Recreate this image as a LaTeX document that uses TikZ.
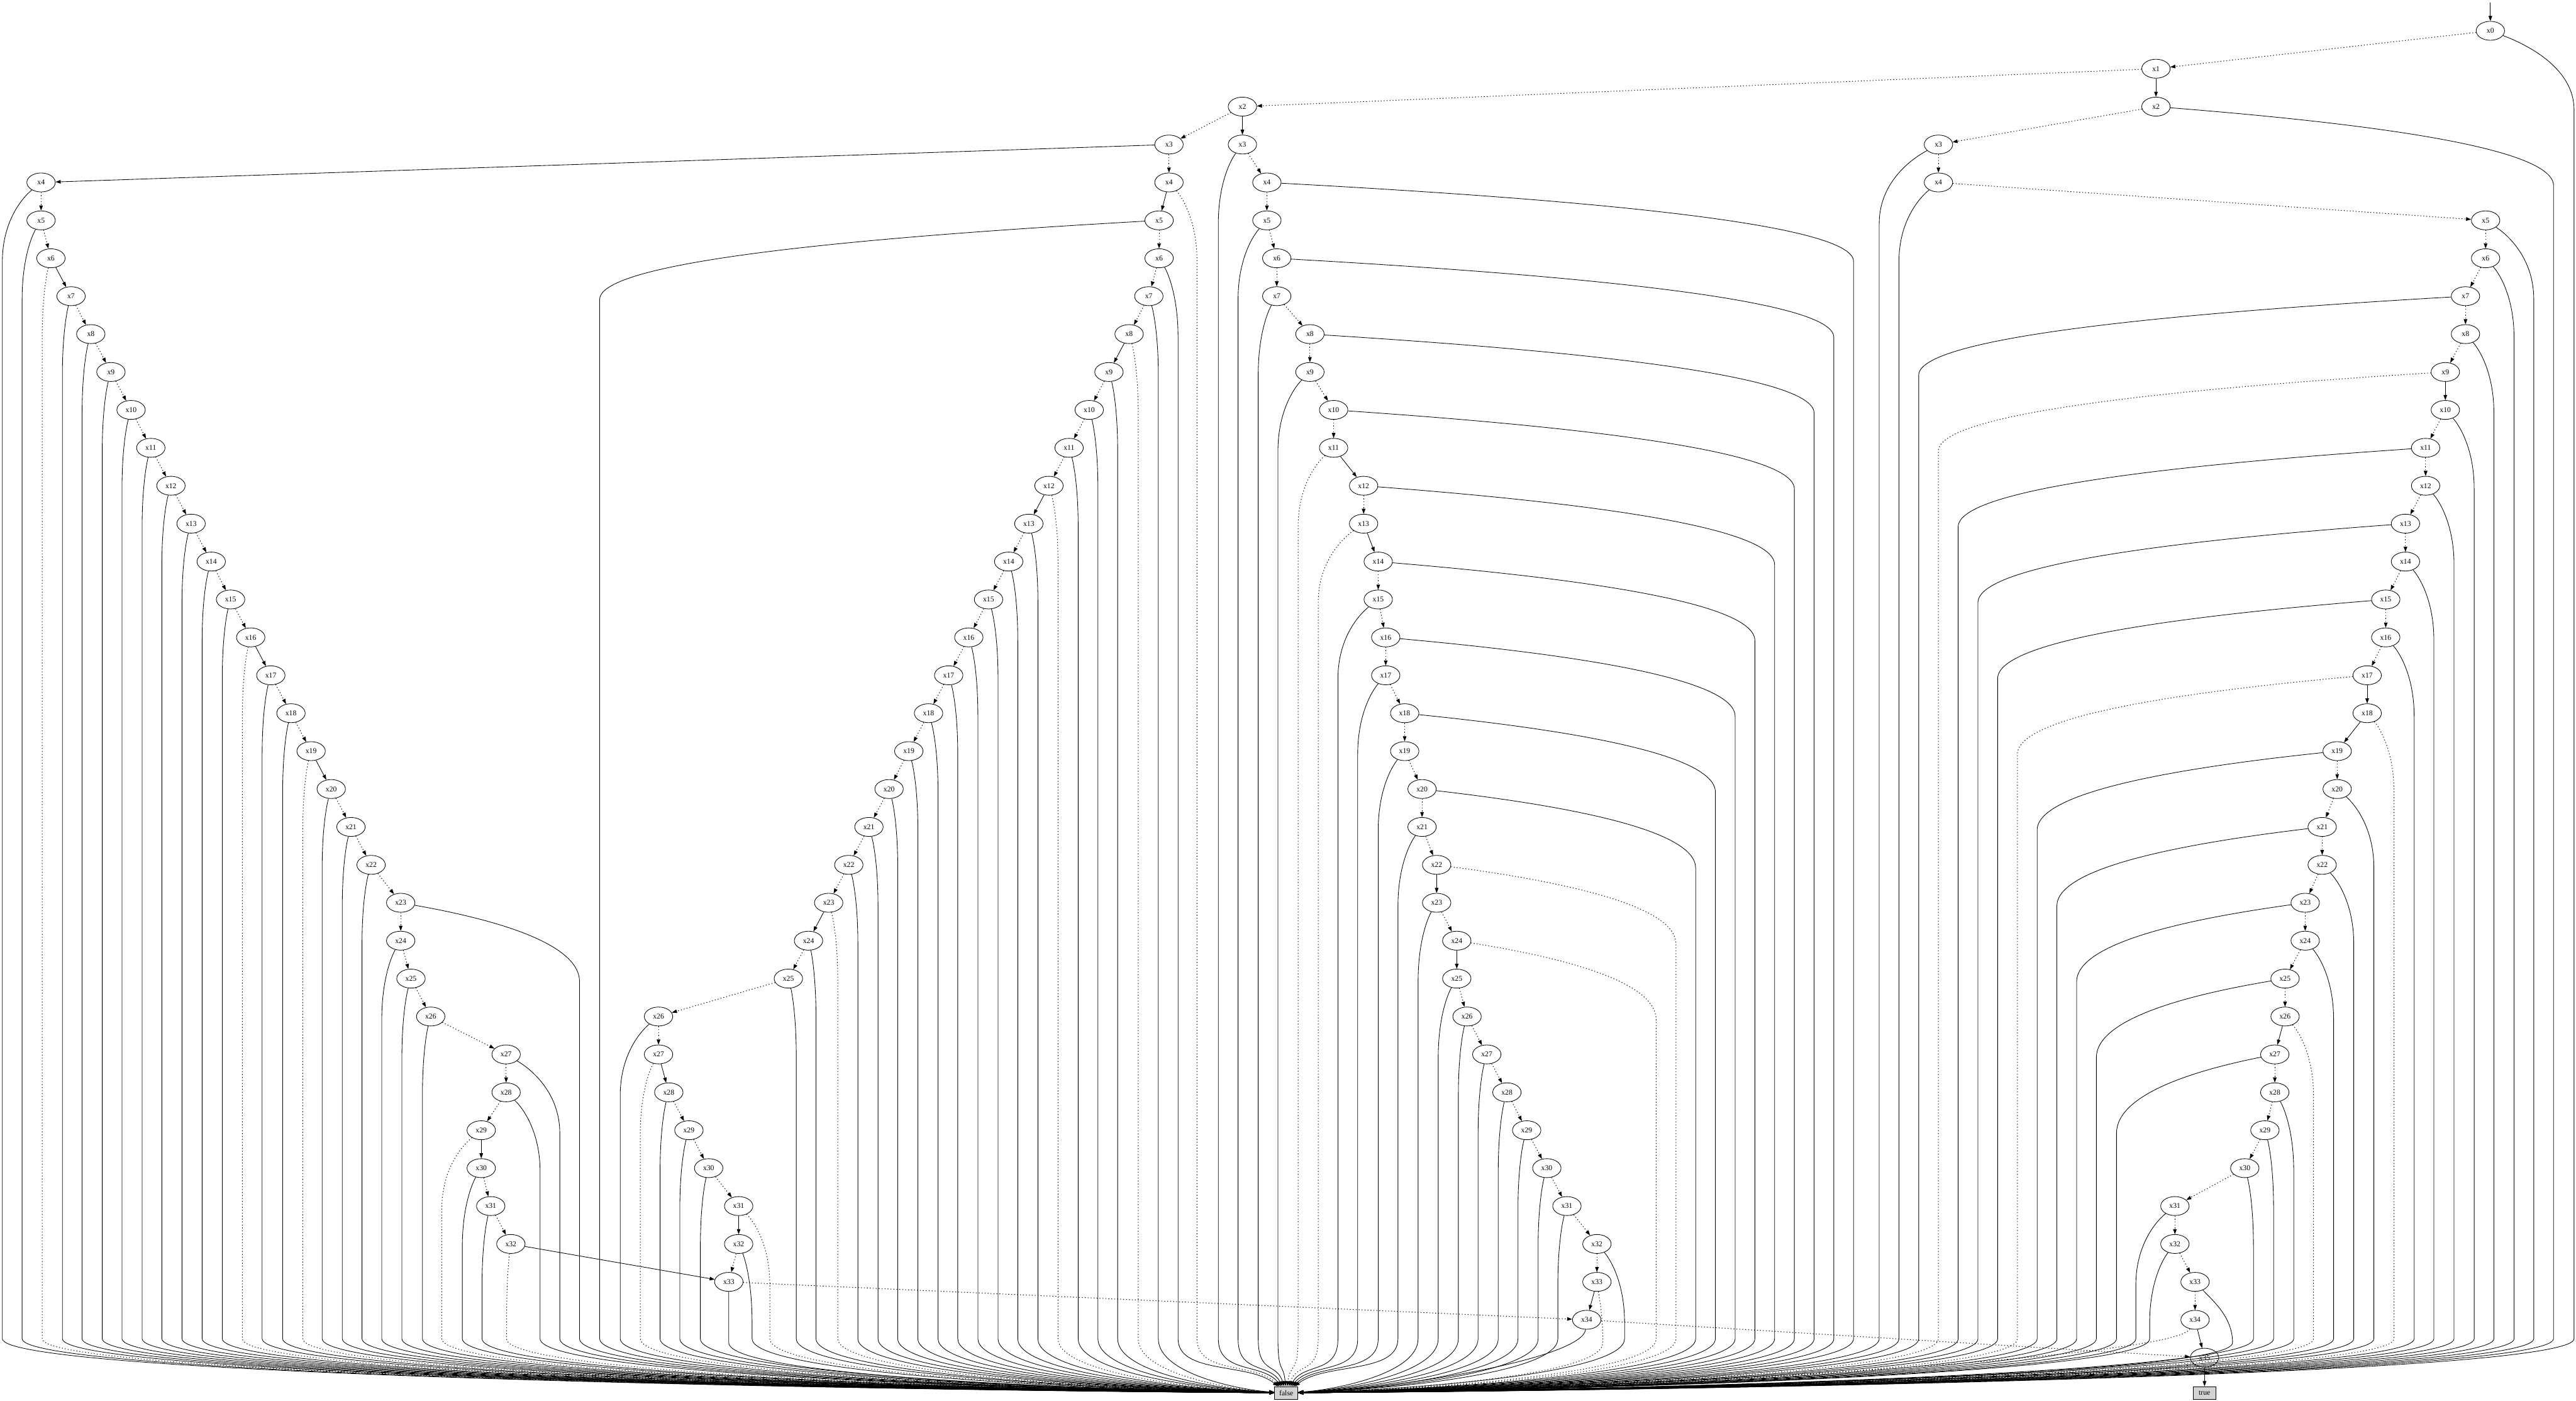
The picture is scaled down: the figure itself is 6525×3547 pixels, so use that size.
\documentclass[tikz,border=0pt]{standalone}
\usepackage{fontspec}
\setmainfont{Liberation Serif}
\usetikzlibrary{shapes.geometric,arrows.meta}
\definecolor{gvgray}{HTML}{D3D3D3}
\tikzset{
 bdd/.style={ellipse,draw,line width=1pt,minimum width=54pt,minimum height=36pt,inner sep=0pt,font=\fontsize{14}{16}\selectfont},
 term/.style={rectangle,draw,line width=1pt,fill=gvgray,minimum width=44pt,minimum height=24pt,inner sep=0pt,font=\fontsize{14}{16}\selectfont},
 gvhi/.style={line width=1pt,-{Triangle[length=9.75pt,width=6.75pt]}},
 gvlo/.style={gvhi,line width=1.2pt,dash pattern=on 1.6pt off 4pt},
}
% false edge: #1 node, #2 x, #3 y, #4 lane x, #5 style
\newcommand\gvfe[5]{%
  \pgfmathsetmacro\gvcdx{3258+0.35*(#4-3258)}%
  \pgfmathsetmacro\gvcdy{abs(#4-3258)<300 ? 3450 : 3520}%
  \pgfmathtruncatemacro\gvlow{#3>3300 ? 2 : (#3>3200 ? 1 : 0)}%
  \ifcase\gvlow
    \pgfmathsetmacro\gvcax{#2+0.5*(#4-#2)}%
    \pgfmathsetmacro\gvcay{#3+40}%
    \pgfmathsetmacro\gvcby{#3+100}%
    \pgfmathsetmacro\gvey{#3+200}%
    \draw[#5] (#1) .. controls (\gvcax,\gvcay) and (#4,\gvcby) .. (#4,\gvey) -- (#4,3390) .. controls (#4,3480) and (\gvcdx,\gvcdy) .. (false);
  \or
    \pgfmathsetmacro\gvcax{#2+0.5*(#4-#2)}%
    \pgfmathsetmacro\gvcay{#3+50}%
    \pgfmathsetmacro\gvcby{#3+90}%
    \draw[#5] (#1) .. controls (\gvcax,\gvcay) and (#4,\gvcby) .. (#4,3400) .. controls (#4,3485) and (\gvcdx,\gvcdy) .. (false);
  \else
    \pgfmathsetmacro\gvcby{min(#3+100,3485)}%
    \draw[#5] (#1) .. controls (#4,\gvcby) and (\gvcdx,\gvcdy) .. (false);
  \fi
}
% node with its false edge: #1 name, #2 x, #3 level, #4 lane, #5 style
\newcommand\bn[5]{%
  \pgfmathsetmacro\gvyn{78+96*#3}%
  \node[bdd] (#1) at (#2,\gvyn) {x#3};
  \gvfe{#1}{#2}{\gvyn}{#4}{#5}%
}
\newcommand\ed[3]{\draw[#3] (#1) -- (#2);}
\begin{document}
\begin{tikzpicture}[x=0.75pt,y=-0.75pt]
\useasboundingbox (0,0) rectangle (6525,3547);
\fill[white] (0,0) rectangle (6525,3547);
\node[term] (false) at (3258,3527) {false};
\node[term] (true) at (5584,3527) {true};
\coordinate (top) at (6308,7);
% top
\bn{n0}{6308}{0}{6520}{gvhi}
\node[bdd] (n1) at (5461,174) {x1};
\node[bdd] (l2) at (3147,270) {x2};
\bn{r2}{5461}{2}{6468}{gvhi}
\node[bdd] (b3) at (2961,366) {x3};
\bn{c3}{3147}{3}{3086}{gvhi}
\bn{d3}{4910}{3}{4760}{gvhi}
% chain A
\bn{a4}{104}{4}{6}{gvhi}
\bn{a5}{104}{5}{56}{gvhi}
\bn{a6}{129}{6}{107}{gvlo}
\bn{a7}{180}{7}{158}{gvhi}
\bn{a8}{230}{8}{208}{gvhi}
\bn{a9}{281}{9}{259}{gvhi}
\bn{a10}{332}{10}{309}{gvhi}
\bn{a11}{382}{11}{360}{gvhi}
\bn{a12}{433}{12}{410}{gvhi}
\bn{a13}{484}{13}{461}{gvhi}
\bn{a14}{535}{14}{512}{gvhi}
\bn{a15}{584}{15}{563}{gvhi}
\bn{a16}{635}{16}{614}{gvlo}
\bn{a17}{686}{17}{664}{gvhi}
\bn{a18}{737}{18}{716}{gvhi}
\bn{a19}{788}{19}{767}{gvlo}
\bn{a20}{839}{20}{816}{gvhi}
\bn{a21}{889}{21}{867}{gvhi}
\bn{a22}{940}{22}{917}{gvhi}
\bn{a23}{1015}{23}{1468}{gvhi}
\bn{a24}{1015}{24}{967}{gvhi}
\bn{a25}{1041}{25}{1018}{gvhi}
\bn{a26}{1091}{26}{1070}{gvhi}
\bn{a27}{1282}{27}{1418}{gvhi}
\bn{a28}{1282}{28}{1368}{gvhi}
\bn{a29}{1219}{29}{1119}{gvlo}
\bn{a30}{1219}{30}{1171}{gvhi}
\bn{a31}{1243}{31}{1221}{gvhi}
\bn{a32}{1294}{32}{1283}{gvlo}
% chain B
\bn{b4}{2961}{4}{3032}{gvlo}
\bn{b5}{2936}{5}{1519}{gvhi}
\bn{b6}{2936}{6}{2984}{gvhi}
\bn{b7}{2910}{7}{2934}{gvhi}
\bn{b8}{2860}{8}{2883}{gvlo}
\bn{b9}{2809}{9}{2831}{gvhi}
\bn{b10}{2759}{10}{2781}{gvhi}
\bn{b11}{2708}{11}{2731}{gvhi}
\bn{b12}{2657}{12}{2680}{gvlo}
\bn{b13}{2606}{13}{2629}{gvhi}
\bn{b14}{2555}{14}{2578}{gvhi}
\bn{b15}{2504}{15}{2528}{gvhi}
\bn{b16}{2454}{16}{2477}{gvhi}
\bn{b17}{2403}{17}{2426}{gvhi}
\bn{b18}{2352}{18}{2376}{gvhi}
\bn{b19}{2302}{19}{2325}{gvhi}
\bn{b20}{2252}{20}{2274}{gvhi}
\bn{b21}{2201}{21}{2224}{gvhi}
\bn{b22}{2150}{22}{2173}{gvhi}
\bn{b23}{2099}{23}{2122}{gvlo}
\bn{b24}{2048}{24}{2067}{gvhi}
\bn{b25}{1997}{25}{2017}{gvhi}
\bn{b26}{1668}{26}{1571}{gvhi}
\bn{b27}{1668}{27}{1622}{gvlo}
\bn{b28}{1694}{28}{1672}{gvhi}
\bn{b29}{1745}{29}{1722}{gvhi}
\bn{b30}{1795}{30}{1774}{gvhi}
\bn{b31}{1871}{31}{1950}{gvlo}
\bn{b32}{1871}{32}{1905}{gvhi}
\bn{m33}{1846}{33}{1846}{gvhi}
% chain C
\bn{c4}{3209}{4}{4695}{gvhi}
\bn{c5}{3209}{5}{3136}{gvhi}
\bn{c6}{3234}{6}{4645}{gvhi}
\bn{c7}{3234}{7}{3187}{gvhi}
\bn{c8}{3318}{8}{4595}{gvhi}
\bn{c9}{3318}{9}{3237}{gvhi}
\bn{c10}{3378}{10}{4545}{gvhi}
\bn{c11}{3378}{11}{3288}{gvlo}
\bn{c12}{3454}{12}{4495}{gvhi}
\bn{c13}{3454}{13}{3339}{gvlo}
\bn{c14}{3491}{14}{4445}{gvhi}
\bn{c15}{3491}{15}{3389}{gvhi}
\bn{c16}{3510}{16}{4395}{gvhi}
\bn{c17}{3510}{17}{3439}{gvhi}
\bn{c18}{3558}{18}{4345}{gvhi}
\bn{c19}{3558}{19}{3491}{gvhi}
\bn{c20}{3602}{20}{4295}{gvhi}
\bn{c21}{3602}{21}{3541}{gvhi}
\bn{c22}{3639}{22}{4245}{gvlo}
\bn{c23}{3639}{23}{3592}{gvhi}
\bn{c24}{3690}{24}{4195}{gvlo}
\bn{c25}{3690}{25}{3643}{gvhi}
\bn{c26}{3716}{26}{3694}{gvhi}
\bn{c27}{3766}{27}{3744}{gvhi}
\bn{c28}{3817}{28}{3795}{gvhi}
\bn{c29}{3867}{29}{3845}{gvhi}
\bn{c30}{3918}{30}{3896}{gvhi}
\bn{c31}{3969}{31}{3946}{gvhi}
\bn{c32}{4045}{32}{4115}{gvhi}
\bn{c33}{4045}{33}{4060}{gvlo}
\bn{c34}{4019}{34}{4008}{gvhi}
% chain D
\bn{d4}{4910}{4}{4810}{gvhi}
\bn{d5}{6296}{5}{6418}{gvhi}
\bn{d6}{6296}{6}{6368}{gvhi}
\bn{d7}{6245}{7}{4860}{gvhi}
\bn{d8}{6245}{8}{6317}{gvhi}
\bn{d9}{6194}{9}{4910}{gvlo}
\bn{d10}{6194}{10}{6267}{gvhi}
\bn{d11}{6144}{11}{4960}{gvhi}
\bn{d12}{6144}{12}{6216}{gvhi}
\bn{d13}{6093}{13}{5010}{gvhi}
\bn{d14}{6093}{14}{6165}{gvhi}
\bn{d15}{6043}{15}{5060}{gvhi}
\bn{d16}{6043}{16}{6115}{gvhi}
\bn{d17}{5996}{17}{5110}{gvlo}
\bn{d18}{5996}{18}{6064}{gvlo}
\bn{d19}{5920}{19}{5160}{gvhi}
\bn{d20}{5920}{20}{6013}{gvhi}
\bn{d21}{5882}{21}{5210}{gvhi}
\bn{d22}{5882}{22}{5962}{gvhi}
\bn{d23}{5839}{23}{5260}{gvhi}
\bn{d24}{5839}{24}{5911}{gvhi}
\bn{d25}{5788}{25}{5310}{gvhi}
\bn{d26}{5788}{26}{5860}{gvlo}
\bn{d27}{5762}{27}{5361}{gvhi}
\bn{d28}{5762}{28}{5810}{gvhi}
\bn{d29}{5737}{29}{5759}{gvhi}
\bn{d30}{5686}{30}{5708}{gvhi}
\bn{d31}{5509}{31}{5410}{gvhi}
\bn{d32}{5509}{32}{5445}{gvhi}
\bn{d33}{5560}{33}{5655}{gvhi}
\bn{d34}{5560}{34}{5504}{gvlo}
\bn{d35}{5584}{35}{5500}{gvlo}
% top edges
\draw[gvhi] (top) -- (n0);
\ed{n0}{n1}{gvlo}
\ed{n1}{l2}{gvlo}
\ed{n1}{r2}{gvhi}
\ed{r2}{d3}{gvlo}
\ed{l2}{b3}{gvlo}
\ed{l2}{c3}{gvhi}
\ed{b3}{a4}{gvhi}
\ed{b3}{b4}{gvlo}
% chain A edges
\ed{a4}{a5}{gvlo}\ed{a5}{a6}{gvlo}\ed{a6}{a7}{gvhi}\ed{a7}{a8}{gvlo}
\ed{a8}{a9}{gvlo}\ed{a9}{a10}{gvlo}\ed{a10}{a11}{gvlo}\ed{a11}{a12}{gvlo}
\ed{a12}{a13}{gvlo}\ed{a13}{a14}{gvlo}\ed{a14}{a15}{gvlo}\ed{a15}{a16}{gvlo}
\ed{a16}{a17}{gvhi}\ed{a17}{a18}{gvlo}\ed{a18}{a19}{gvlo}\ed{a19}{a20}{gvhi}
\ed{a20}{a21}{gvlo}\ed{a21}{a22}{gvlo}\ed{a22}{a23}{gvlo}\ed{a23}{a24}{gvlo}
\ed{a24}{a25}{gvlo}\ed{a25}{a26}{gvlo}\ed{a26}{a27}{gvlo}\ed{a27}{a28}{gvlo}
\ed{a28}{a29}{gvlo}\ed{a29}{a30}{gvhi}\ed{a30}{a31}{gvlo}\ed{a31}{a32}{gvlo}
\ed{a32}{m33}{gvhi}
% chain B edges
\ed{b4}{b5}{gvhi}\ed{b5}{b6}{gvlo}\ed{b6}{b7}{gvlo}\ed{b7}{b8}{gvlo}
\ed{b8}{b9}{gvhi}\ed{b9}{b10}{gvlo}\ed{b10}{b11}{gvlo}\ed{b11}{b12}{gvlo}
\ed{b12}{b13}{gvhi}\ed{b13}{b14}{gvlo}\ed{b14}{b15}{gvlo}\ed{b15}{b16}{gvlo}
\ed{b16}{b17}{gvlo}\ed{b17}{b18}{gvlo}\ed{b18}{b19}{gvlo}\ed{b19}{b20}{gvlo}
\ed{b20}{b21}{gvlo}\ed{b21}{b22}{gvlo}\ed{b22}{b23}{gvlo}\ed{b23}{b24}{gvhi}
\ed{b24}{b25}{gvlo}\ed{b25}{b26}{gvlo}\ed{b26}{b27}{gvlo}\ed{b27}{b28}{gvhi}
\ed{b28}{b29}{gvlo}\ed{b29}{b30}{gvlo}\ed{b30}{b31}{gvlo}\ed{b31}{b32}{gvhi}
\ed{b32}{m33}{gvlo}\ed{m33}{c34}{gvlo}
% chain C edges
\ed{c3}{c4}{gvlo}\ed{c4}{c5}{gvlo}\ed{c5}{c6}{gvlo}\ed{c6}{c7}{gvlo}
\ed{c7}{c8}{gvlo}\ed{c8}{c9}{gvlo}\ed{c9}{c10}{gvlo}\ed{c10}{c11}{gvlo}
\ed{c11}{c12}{gvhi}\ed{c12}{c13}{gvlo}\ed{c13}{c14}{gvhi}\ed{c14}{c15}{gvlo}
\ed{c15}{c16}{gvlo}\ed{c16}{c17}{gvlo}\ed{c17}{c18}{gvlo}\ed{c18}{c19}{gvlo}
\ed{c19}{c20}{gvlo}\ed{c20}{c21}{gvlo}\ed{c21}{c22}{gvlo}\ed{c22}{c23}{gvhi}
\ed{c23}{c24}{gvlo}\ed{c24}{c25}{gvhi}\ed{c25}{c26}{gvlo}\ed{c26}{c27}{gvlo}
\ed{c27}{c28}{gvlo}\ed{c28}{c29}{gvlo}\ed{c29}{c30}{gvlo}\ed{c30}{c31}{gvlo}
\ed{c31}{c32}{gvlo}\ed{c32}{c33}{gvlo}\ed{c33}{c34}{gvhi}\ed{c34}{d35}{gvlo}
% chain D edges
\ed{d3}{d4}{gvlo}\ed{d4}{d5}{gvlo}\ed{d5}{d6}{gvlo}\ed{d6}{d7}{gvlo}
\ed{d7}{d8}{gvlo}\ed{d8}{d9}{gvlo}\ed{d9}{d10}{gvhi}\ed{d10}{d11}{gvlo}
\ed{d11}{d12}{gvlo}\ed{d12}{d13}{gvlo}\ed{d13}{d14}{gvlo}\ed{d14}{d15}{gvlo}
\ed{d15}{d16}{gvlo}\ed{d16}{d17}{gvlo}\ed{d17}{d18}{gvhi}\ed{d18}{d19}{gvhi}
\ed{d19}{d20}{gvlo}\ed{d20}{d21}{gvlo}\ed{d21}{d22}{gvlo}\ed{d22}{d23}{gvlo}
\ed{d23}{d24}{gvlo}\ed{d24}{d25}{gvlo}\ed{d25}{d26}{gvlo}\ed{d26}{d27}{gvhi}
\ed{d27}{d28}{gvlo}\ed{d28}{d29}{gvlo}\ed{d29}{d30}{gvlo}\ed{d30}{d31}{gvlo}
\ed{d31}{d32}{gvlo}\ed{d32}{d33}{gvlo}\ed{d33}{d34}{gvlo}\ed{d34}{d35}{gvhi}
\ed{d35}{true}{gvhi}
\end{tikzpicture}
\end{document}
